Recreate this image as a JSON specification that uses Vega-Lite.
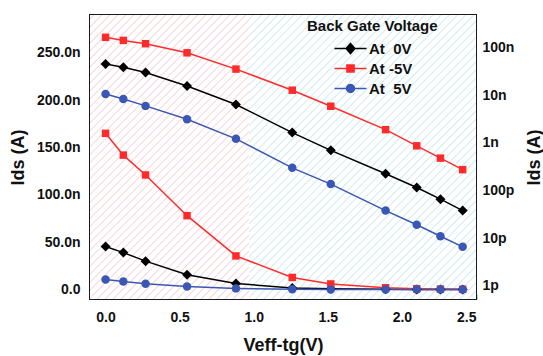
{
  "$schema": "https://vega.github.io/schema/vega-lite/v6.json",
  "width": 386,
  "height": 284,
  "autosize": "none",
  "padding": {"left": 90, "top": 15, "right": 67, "bottom": 57},
  "background": "white",
  "config": {
    "font": "Liberation Sans",
    "view": {"stroke": "#1a1a1a", "strokeWidth": 2},
    "axis": {
      "grid": false,
      "ticks": true,
      "zindex": 1,
      "labelFont": "Liberation Sans",
      "labelFontWeight": "bold",
      "labelFontSize": 14,
      "labelColor": "#111111",
      "titleFont": "Liberation Sans",
      "titleFontWeight": "bold",
      "titleFontSize": 18,
      "titleColor": "#111111"
    }
  },
  "data": {
    "values": [
      {"v": 0, "i": 4.55e-8, "s": "At 0V"},
      {"v": 0.12, "i": 3.9e-8, "s": "At 0V"},
      {"v": 0.27, "i": 3.0e-8, "s": "At 0V"},
      {"v": 0.55, "i": 1.57e-8, "s": "At 0V"},
      {"v": 0.88, "i": 6.4e-9, "s": "At 0V"},
      {"v": 1.26, "i": 1.65e-9, "s": "At 0V"},
      {"v": 1.52, "i": 7.0e-10, "s": "At 0V"},
      {"v": 1.89, "i": 2.25e-10, "s": "At 0V"},
      {"v": 2.1, "i": 1.16e-10, "s": "At 0V"},
      {"v": 2.26, "i": 6.6e-11, "s": "At 0V"},
      {"v": 2.41, "i": 3.8e-11, "s": "At 0V"},
      {"v": 0, "i": 1.65e-7, "s": "At -5V"},
      {"v": 0.12, "i": 1.42e-7, "s": "At -5V"},
      {"v": 0.27, "i": 1.21e-7, "s": "At -5V"},
      {"v": 0.55, "i": 7.8e-8, "s": "At -5V"},
      {"v": 0.88, "i": 3.55e-8, "s": "At -5V"},
      {"v": 1.26, "i": 1.28e-8, "s": "At -5V"},
      {"v": 1.52, "i": 5.9e-9, "s": "At -5V"},
      {"v": 1.89, "i": 1.9e-9, "s": "At -5V"},
      {"v": 2.1, "i": 8.7e-10, "s": "At -5V"},
      {"v": 2.26, "i": 4.8e-10, "s": "At -5V"},
      {"v": 2.41, "i": 2.75e-10, "s": "At -5V"},
      {"v": 0, "i": 1.07e-8, "s": "At 5V"},
      {"v": 0.12, "i": 8.4e-9, "s": "At 5V"},
      {"v": 0.27, "i": 6.0e-9, "s": "At 5V"},
      {"v": 0.55, "i": 3.15e-9, "s": "At 5V"},
      {"v": 0.88, "i": 1.22e-9, "s": "At 5V"},
      {"v": 1.26, "i": 3.0e-10, "s": "At 5V"},
      {"v": 1.52, "i": 1.37e-10, "s": "At 5V"},
      {"v": 1.89, "i": 3.8e-11, "s": "At 5V"},
      {"v": 2.1, "i": 1.92e-11, "s": "At 5V"},
      {"v": 2.26, "i": 1.1e-11, "s": "At 5V"},
      {"v": 2.41, "i": 6.6e-12, "s": "At 5V"}
    ]
  },
  "encoding": {
    "x": {
      "field": "v",
      "type": "quantitative",
      "scale": {"domain": [-0.105, 2.5], "nice": false, "zero": false},
      "axis": {
        "title": "Veff-tg(V)",
        "values": [0, 0.25, 0.5, 0.75, 1, 1.25, 1.5, 1.75, 2, 2.25, 2.5],
        "labelExpr": "(round(datum.value*4) % 2 == 0) ? format(datum.value, '.1f') : ''",
        "domain": false,
        "offset": -5,
        "ticks": true,
        "tickSize": 5,
        "tickWidth": 1.5,
        "tickColor": "#1a1a1a",
        "labelPadding": 11,
        "titlePadding": 12
      }
    }
  },
  "layer": [
    {
      "layer": [
        {
          "mark": {
            "type": "rect",
            "fill": {
              "gradient": "linear", "x1": 0, "y1": 0, "x2": 0.665, "y2": 1.188,
              "stops": [
                {"offset": 0, "color": "#ffffff"},
                {"offset": 0.006, "color": "#ffffff"}, {"offset": 0.009, "color": "#f8d3da"}, {"offset": 0.012, "color": "#ffffff"},
                {"offset": 0.024, "color": "#ffffff"}, {"offset": 0.027, "color": "#f8d3da"}, {"offset": 0.03, "color": "#ffffff"},
                {"offset": 0.042, "color": "#ffffff"}, {"offset": 0.045, "color": "#f8d3da"}, {"offset": 0.048, "color": "#ffffff"},
                {"offset": 0.06, "color": "#ffffff"}, {"offset": 0.063, "color": "#f8d3da"}, {"offset": 0.066, "color": "#ffffff"},
                {"offset": 0.078, "color": "#ffffff"}, {"offset": 0.081, "color": "#f8d3da"}, {"offset": 0.084, "color": "#ffffff"},
                {"offset": 0.096, "color": "#ffffff"}, {"offset": 0.099, "color": "#f8d3da"}, {"offset": 0.102, "color": "#ffffff"},
                {"offset": 0.114, "color": "#ffffff"}, {"offset": 0.117, "color": "#f8d3da"}, {"offset": 0.12, "color": "#ffffff"},
                {"offset": 0.132, "color": "#ffffff"}, {"offset": 0.135, "color": "#f8d3da"}, {"offset": 0.138, "color": "#ffffff"},
                {"offset": 0.15, "color": "#ffffff"}, {"offset": 0.153, "color": "#f8d3da"}, {"offset": 0.156, "color": "#ffffff"},
                {"offset": 0.168, "color": "#ffffff"}, {"offset": 0.171, "color": "#f8d3da"}, {"offset": 0.174, "color": "#ffffff"},
                {"offset": 0.186, "color": "#ffffff"}, {"offset": 0.189, "color": "#f8d3da"}, {"offset": 0.192, "color": "#ffffff"},
                {"offset": 0.204, "color": "#ffffff"}, {"offset": 0.207, "color": "#f8d3da"}, {"offset": 0.21, "color": "#ffffff"},
                {"offset": 0.222, "color": "#ffffff"}, {"offset": 0.225, "color": "#f8d3da"}, {"offset": 0.228, "color": "#ffffff"},
                {"offset": 0.24, "color": "#ffffff"}, {"offset": 0.243, "color": "#f8d3da"}, {"offset": 0.246, "color": "#ffffff"},
                {"offset": 0.258, "color": "#ffffff"}, {"offset": 0.261, "color": "#f8d3da"}, {"offset": 0.264, "color": "#ffffff"},
                {"offset": 0.276, "color": "#ffffff"}, {"offset": 0.279, "color": "#f8d3da"}, {"offset": 0.282, "color": "#ffffff"},
                {"offset": 0.294, "color": "#ffffff"}, {"offset": 0.297, "color": "#f8d3da"}, {"offset": 0.3, "color": "#ffffff"},
                {"offset": 0.312, "color": "#ffffff"}, {"offset": 0.315, "color": "#f8d3da"}, {"offset": 0.318, "color": "#ffffff"},
                {"offset": 0.33, "color": "#ffffff"}, {"offset": 0.333, "color": "#f8d3da"}, {"offset": 0.336, "color": "#ffffff"},
                {"offset": 0.348, "color": "#ffffff"}, {"offset": 0.351, "color": "#f8d3da"}, {"offset": 0.354, "color": "#ffffff"},
                {"offset": 0.366, "color": "#ffffff"}, {"offset": 0.369, "color": "#f8d3da"}, {"offset": 0.372, "color": "#ffffff"},
                {"offset": 0.384, "color": "#ffffff"}, {"offset": 0.387, "color": "#f8d3da"}, {"offset": 0.39, "color": "#ffffff"},
                {"offset": 0.402, "color": "#ffffff"}, {"offset": 0.405, "color": "#f8d3da"}, {"offset": 0.408, "color": "#ffffff"},
                {"offset": 0.42, "color": "#ffffff"}, {"offset": 0.423, "color": "#f8d3da"}, {"offset": 0.426, "color": "#ffffff"},
                {"offset": 0.438, "color": "#ffffff"}, {"offset": 0.441, "color": "#f8d3da"}, {"offset": 0.444, "color": "#ffffff"},
                {"offset": 0.456, "color": "#ffffff"}, {"offset": 0.459, "color": "#f8d3da"}, {"offset": 0.462, "color": "#ffffff"},
                {"offset": 0.474, "color": "#ffffff"}, {"offset": 0.477, "color": "#f8d3da"}, {"offset": 0.48, "color": "#ffffff"},
                {"offset": 0.492, "color": "#ffffff"}, {"offset": 0.495, "color": "#f8d3da"}, {"offset": 0.498, "color": "#ffffff"},
                {"offset": 0.51, "color": "#ffffff"}, {"offset": 0.513, "color": "#f8d3da"}, {"offset": 0.516, "color": "#ffffff"},
                {"offset": 0.528, "color": "#ffffff"}, {"offset": 0.531, "color": "#f8d3da"}, {"offset": 0.534, "color": "#ffffff"},
                {"offset": 0.546, "color": "#ffffff"}, {"offset": 0.549, "color": "#f8d3da"}, {"offset": 0.552, "color": "#ffffff"},
                {"offset": 0.564, "color": "#ffffff"}, {"offset": 0.567, "color": "#f8d3da"}, {"offset": 0.57, "color": "#ffffff"},
                {"offset": 0.582, "color": "#ffffff"}, {"offset": 0.585, "color": "#f8d3da"}, {"offset": 0.588, "color": "#ffffff"},
                {"offset": 0.6, "color": "#ffffff"}, {"offset": 0.603, "color": "#f8d3da"}, {"offset": 0.606, "color": "#ffffff"},
                {"offset": 0.618, "color": "#ffffff"}, {"offset": 0.621, "color": "#f8d3da"}, {"offset": 0.624, "color": "#ffffff"},
                {"offset": 0.636, "color": "#ffffff"}, {"offset": 0.639, "color": "#f8d3da"}, {"offset": 0.642, "color": "#ffffff"},
                {"offset": 0.654, "color": "#ffffff"}, {"offset": 0.657, "color": "#f8d3da"}, {"offset": 0.66, "color": "#ffffff"},
                {"offset": 0.672, "color": "#ffffff"}, {"offset": 0.675, "color": "#f8d3da"}, {"offset": 0.678, "color": "#ffffff"},
                {"offset": 0.69, "color": "#ffffff"}, {"offset": 0.693, "color": "#f8d3da"}, {"offset": 0.696, "color": "#ffffff"},
                {"offset": 0.708, "color": "#ffffff"}, {"offset": 0.711, "color": "#f8d3da"}, {"offset": 0.714, "color": "#ffffff"},
                {"offset": 0.726, "color": "#ffffff"}, {"offset": 0.729, "color": "#f8d3da"}, {"offset": 0.732, "color": "#ffffff"},
                {"offset": 0.744, "color": "#ffffff"}, {"offset": 0.747, "color": "#f8d3da"}, {"offset": 0.75, "color": "#ffffff"},
                {"offset": 0.762, "color": "#ffffff"}, {"offset": 0.765, "color": "#f8d3da"}, {"offset": 0.768, "color": "#ffffff"},
                {"offset": 0.78, "color": "#ffffff"}, {"offset": 0.783, "color": "#f8d3da"}, {"offset": 0.786, "color": "#ffffff"},
                {"offset": 0.798, "color": "#ffffff"}, {"offset": 0.801, "color": "#f8d3da"}, {"offset": 0.804, "color": "#ffffff"},
                {"offset": 0.816, "color": "#ffffff"}, {"offset": 0.819, "color": "#f8d3da"}, {"offset": 0.822, "color": "#ffffff"},
                {"offset": 0.834, "color": "#ffffff"}, {"offset": 0.837, "color": "#f8d3da"}, {"offset": 0.84, "color": "#ffffff"},
                {"offset": 0.852, "color": "#ffffff"}, {"offset": 0.855, "color": "#f8d3da"}, {"offset": 0.858, "color": "#ffffff"},
                {"offset": 0.87, "color": "#ffffff"}, {"offset": 0.873, "color": "#f8d3da"}, {"offset": 0.876, "color": "#ffffff"},
                {"offset": 0.888, "color": "#ffffff"}, {"offset": 0.891, "color": "#f8d3da"}, {"offset": 0.894, "color": "#ffffff"},
                {"offset": 0.906, "color": "#ffffff"}, {"offset": 0.909, "color": "#f8d3da"}, {"offset": 0.912, "color": "#ffffff"},
                {"offset": 0.924, "color": "#ffffff"}, {"offset": 0.927, "color": "#f8d3da"}, {"offset": 0.93, "color": "#ffffff"},
                {"offset": 0.942, "color": "#ffffff"}, {"offset": 0.945, "color": "#f8d3da"}, {"offset": 0.948, "color": "#ffffff"},
                {"offset": 0.96, "color": "#ffffff"}, {"offset": 0.963, "color": "#f8d3da"}, {"offset": 0.966, "color": "#ffffff"},
                {"offset": 0.978, "color": "#ffffff"}, {"offset": 0.981, "color": "#f8d3da"}, {"offset": 0.984, "color": "#ffffff"},
                {"offset": 1, "color": "#ffffff"}
              ]
            }
          },
          "encoding": {"x": {"datum": -0.105, "type": "quantitative"}, "x2": {"datum": 0.97}, "y": {"datum": -1.0e-8, "type": "quantitative"}, "y2": {"datum": 2.9e-7}}
        },
        {
          "mark": {
            "type": "rect",
            "fill": {
              "gradient": "linear", "x1": 0, "y1": 0, "x2": 0.878, "y2": 1.098,
              "stops": [
                {"offset": 0, "color": "#ffffff"},
                {"offset": 0.005, "color": "#ffffff"}, {"offset": 0.008, "color": "#d3ecf0"}, {"offset": 0.011, "color": "#ffffff"},
                {"offset": 0.021, "color": "#ffffff"}, {"offset": 0.024, "color": "#d3ecf0"}, {"offset": 0.027, "color": "#ffffff"},
                {"offset": 0.037, "color": "#ffffff"}, {"offset": 0.04, "color": "#d3ecf0"}, {"offset": 0.043, "color": "#ffffff"},
                {"offset": 0.053, "color": "#ffffff"}, {"offset": 0.056, "color": "#d3ecf0"}, {"offset": 0.059, "color": "#ffffff"},
                {"offset": 0.069, "color": "#ffffff"}, {"offset": 0.072, "color": "#d3ecf0"}, {"offset": 0.075, "color": "#ffffff"},
                {"offset": 0.085, "color": "#ffffff"}, {"offset": 0.088, "color": "#d3ecf0"}, {"offset": 0.091, "color": "#ffffff"},
                {"offset": 0.101, "color": "#ffffff"}, {"offset": 0.104, "color": "#d3ecf0"}, {"offset": 0.107, "color": "#ffffff"},
                {"offset": 0.117, "color": "#ffffff"}, {"offset": 0.12, "color": "#d3ecf0"}, {"offset": 0.123, "color": "#ffffff"},
                {"offset": 0.133, "color": "#ffffff"}, {"offset": 0.136, "color": "#d3ecf0"}, {"offset": 0.139, "color": "#ffffff"},
                {"offset": 0.149, "color": "#ffffff"}, {"offset": 0.152, "color": "#d3ecf0"}, {"offset": 0.155, "color": "#ffffff"},
                {"offset": 0.165, "color": "#ffffff"}, {"offset": 0.168, "color": "#d3ecf0"}, {"offset": 0.171, "color": "#ffffff"},
                {"offset": 0.181, "color": "#ffffff"}, {"offset": 0.184, "color": "#d3ecf0"}, {"offset": 0.187, "color": "#ffffff"},
                {"offset": 0.197, "color": "#ffffff"}, {"offset": 0.2, "color": "#d3ecf0"}, {"offset": 0.203, "color": "#ffffff"},
                {"offset": 0.213, "color": "#ffffff"}, {"offset": 0.216, "color": "#d3ecf0"}, {"offset": 0.219, "color": "#ffffff"},
                {"offset": 0.229, "color": "#ffffff"}, {"offset": 0.232, "color": "#d3ecf0"}, {"offset": 0.235, "color": "#ffffff"},
                {"offset": 0.245, "color": "#ffffff"}, {"offset": 0.248, "color": "#d3ecf0"}, {"offset": 0.251, "color": "#ffffff"},
                {"offset": 0.261, "color": "#ffffff"}, {"offset": 0.264, "color": "#d3ecf0"}, {"offset": 0.267, "color": "#ffffff"},
                {"offset": 0.277, "color": "#ffffff"}, {"offset": 0.28, "color": "#d3ecf0"}, {"offset": 0.283, "color": "#ffffff"},
                {"offset": 0.293, "color": "#ffffff"}, {"offset": 0.296, "color": "#d3ecf0"}, {"offset": 0.299, "color": "#ffffff"},
                {"offset": 0.309, "color": "#ffffff"}, {"offset": 0.312, "color": "#d3ecf0"}, {"offset": 0.315, "color": "#ffffff"},
                {"offset": 0.325, "color": "#ffffff"}, {"offset": 0.328, "color": "#d3ecf0"}, {"offset": 0.331, "color": "#ffffff"},
                {"offset": 0.341, "color": "#ffffff"}, {"offset": 0.344, "color": "#d3ecf0"}, {"offset": 0.347, "color": "#ffffff"},
                {"offset": 0.357, "color": "#ffffff"}, {"offset": 0.36, "color": "#d3ecf0"}, {"offset": 0.363, "color": "#ffffff"},
                {"offset": 0.373, "color": "#ffffff"}, {"offset": 0.376, "color": "#d3ecf0"}, {"offset": 0.379, "color": "#ffffff"},
                {"offset": 0.389, "color": "#ffffff"}, {"offset": 0.392, "color": "#d3ecf0"}, {"offset": 0.395, "color": "#ffffff"},
                {"offset": 0.405, "color": "#ffffff"}, {"offset": 0.408, "color": "#d3ecf0"}, {"offset": 0.411, "color": "#ffffff"},
                {"offset": 0.421, "color": "#ffffff"}, {"offset": 0.424, "color": "#d3ecf0"}, {"offset": 0.427, "color": "#ffffff"},
                {"offset": 0.437, "color": "#ffffff"}, {"offset": 0.44, "color": "#d3ecf0"}, {"offset": 0.443, "color": "#ffffff"},
                {"offset": 0.453, "color": "#ffffff"}, {"offset": 0.456, "color": "#d3ecf0"}, {"offset": 0.459, "color": "#ffffff"},
                {"offset": 0.469, "color": "#ffffff"}, {"offset": 0.472, "color": "#d3ecf0"}, {"offset": 0.475, "color": "#ffffff"},
                {"offset": 0.485, "color": "#ffffff"}, {"offset": 0.488, "color": "#d3ecf0"}, {"offset": 0.491, "color": "#ffffff"},
                {"offset": 0.501, "color": "#ffffff"}, {"offset": 0.504, "color": "#d3ecf0"}, {"offset": 0.507, "color": "#ffffff"},
                {"offset": 0.517, "color": "#ffffff"}, {"offset": 0.52, "color": "#d3ecf0"}, {"offset": 0.523, "color": "#ffffff"},
                {"offset": 0.533, "color": "#ffffff"}, {"offset": 0.536, "color": "#d3ecf0"}, {"offset": 0.539, "color": "#ffffff"},
                {"offset": 0.549, "color": "#ffffff"}, {"offset": 0.552, "color": "#d3ecf0"}, {"offset": 0.555, "color": "#ffffff"},
                {"offset": 0.565, "color": "#ffffff"}, {"offset": 0.568, "color": "#d3ecf0"}, {"offset": 0.571, "color": "#ffffff"},
                {"offset": 0.581, "color": "#ffffff"}, {"offset": 0.584, "color": "#d3ecf0"}, {"offset": 0.587, "color": "#ffffff"},
                {"offset": 0.597, "color": "#ffffff"}, {"offset": 0.6, "color": "#d3ecf0"}, {"offset": 0.603, "color": "#ffffff"},
                {"offset": 0.613, "color": "#ffffff"}, {"offset": 0.616, "color": "#d3ecf0"}, {"offset": 0.619, "color": "#ffffff"},
                {"offset": 0.629, "color": "#ffffff"}, {"offset": 0.632, "color": "#d3ecf0"}, {"offset": 0.635, "color": "#ffffff"},
                {"offset": 0.645, "color": "#ffffff"}, {"offset": 0.648, "color": "#d3ecf0"}, {"offset": 0.651, "color": "#ffffff"},
                {"offset": 0.661, "color": "#ffffff"}, {"offset": 0.664, "color": "#d3ecf0"}, {"offset": 0.667, "color": "#ffffff"},
                {"offset": 0.677, "color": "#ffffff"}, {"offset": 0.68, "color": "#d3ecf0"}, {"offset": 0.683, "color": "#ffffff"},
                {"offset": 0.693, "color": "#ffffff"}, {"offset": 0.696, "color": "#d3ecf0"}, {"offset": 0.699, "color": "#ffffff"},
                {"offset": 0.709, "color": "#ffffff"}, {"offset": 0.712, "color": "#d3ecf0"}, {"offset": 0.715, "color": "#ffffff"},
                {"offset": 0.725, "color": "#ffffff"}, {"offset": 0.728, "color": "#d3ecf0"}, {"offset": 0.731, "color": "#ffffff"},
                {"offset": 0.741, "color": "#ffffff"}, {"offset": 0.744, "color": "#d3ecf0"}, {"offset": 0.747, "color": "#ffffff"},
                {"offset": 0.757, "color": "#ffffff"}, {"offset": 0.76, "color": "#d3ecf0"}, {"offset": 0.763, "color": "#ffffff"},
                {"offset": 0.773, "color": "#ffffff"}, {"offset": 0.776, "color": "#d3ecf0"}, {"offset": 0.779, "color": "#ffffff"},
                {"offset": 0.789, "color": "#ffffff"}, {"offset": 0.792, "color": "#d3ecf0"}, {"offset": 0.795, "color": "#ffffff"},
                {"offset": 0.805, "color": "#ffffff"}, {"offset": 0.808, "color": "#d3ecf0"}, {"offset": 0.811, "color": "#ffffff"},
                {"offset": 0.821, "color": "#ffffff"}, {"offset": 0.824, "color": "#d3ecf0"}, {"offset": 0.827, "color": "#ffffff"},
                {"offset": 0.837, "color": "#ffffff"}, {"offset": 0.84, "color": "#d3ecf0"}, {"offset": 0.843, "color": "#ffffff"},
                {"offset": 0.853, "color": "#ffffff"}, {"offset": 0.856, "color": "#d3ecf0"}, {"offset": 0.859, "color": "#ffffff"},
                {"offset": 0.869, "color": "#ffffff"}, {"offset": 0.872, "color": "#d3ecf0"}, {"offset": 0.875, "color": "#ffffff"},
                {"offset": 0.885, "color": "#ffffff"}, {"offset": 0.888, "color": "#d3ecf0"}, {"offset": 0.891, "color": "#ffffff"},
                {"offset": 0.901, "color": "#ffffff"}, {"offset": 0.904, "color": "#d3ecf0"}, {"offset": 0.907, "color": "#ffffff"},
                {"offset": 0.917, "color": "#ffffff"}, {"offset": 0.92, "color": "#d3ecf0"}, {"offset": 0.923, "color": "#ffffff"},
                {"offset": 0.933, "color": "#ffffff"}, {"offset": 0.936, "color": "#d3ecf0"}, {"offset": 0.939, "color": "#ffffff"},
                {"offset": 0.949, "color": "#ffffff"}, {"offset": 0.952, "color": "#d3ecf0"}, {"offset": 0.955, "color": "#ffffff"},
                {"offset": 0.965, "color": "#ffffff"}, {"offset": 0.968, "color": "#d3ecf0"}, {"offset": 0.971, "color": "#ffffff"},
                {"offset": 0.981, "color": "#ffffff"}, {"offset": 0.984, "color": "#d3ecf0"}, {"offset": 0.987, "color": "#ffffff"},
                {"offset": 1, "color": "#ffffff"}
              ]
            }
          },
          "encoding": {"x": {"datum": 0.97, "type": "quantitative"}, "x2": {"datum": 2.5}, "y": {"datum": -1.0e-8, "type": "quantitative"}, "y2": {"datum": 2.9e-7}}
        },
        {
          "mark": {"type": "line", "strokeWidth": 1.5},
          "encoding": {
            "y": {
              "field": "i",
              "type": "quantitative",
              "scale": {"domain": [-1.0e-8, 2.9e-7], "nice": false, "zero": false},
              "axis": {
                "orient": "left",
                "title": "Ids (A)",
                "values": [0, 2.5e-8, 5e-8, 7.5e-8, 1e-7, 1.25e-7, 1.5e-7, 1.75e-7, 2e-7, 2.25e-7, 2.5e-7, 2.75e-7],
                "labelExpr": "(round(datum.value*1e9) % 50 == 0) ? (datum.value == 0 ? '0.0' : format(datum.value*1e9, '.1f') + 'n') : ''",
                "domain": false,
                "offset": -5,
                "ticks": true,
                "tickSize": 5,
                "tickWidth": 1.5,
                "tickColor": "#1a1a1a",
                "labelPadding": 10,
                "titlePadding": 9
              }
            },
            "color": {
              "field": "s",
              "type": "nominal",
              "scale": {"domain": ["At 0V", "At -5V", "At 5V"], "range": ["#000000", "#ff2b2b", "#3a57b5"]},
              "legend": {
                "title": "Back Gate Voltage",
                "orient": "none",
                "legendX": 217,
                "legendY": 4,
                "titleFont": "Liberation Sans",
                "titleFontSize": 15,
                "titleFontWeight": "bold",
                "titleColor": "#111111",
                "titlePadding": 7,
                "labelFont": "Liberation Sans",
                "labelFontSize": 15,
                "labelFontWeight": "bold",
                "labelColor": "#111111",
                "labelExpr": "datum.label == 'At -5V' ? datum.label : replace(datum.label, ' ', '\u00a0\u00a0')",
                "symbolType": "M-4,0H4M0,-1.25L1.1,0L0,1.25L-1.1,0Z",
                "symbolSize": 64,
                "symbolStrokeWidth": 1.5,
                "symbolOffset": 36,
                "labelOffset": 11,
                "rowPadding": 4,
                "encode": {
                  "symbols": {
                    "update": {
                      "shape": {"signal": "datum.value == 'At 0V' ? 'M-4,0H4M0,-1.25L1.1,0L0,1.25L-1.1,0Z' : (datum.value == 'At -5V' ? 'M-4,0H4M-0.9,-0.9H0.9V0.9H-0.9Z' : 'M-4,0H4M-1,0A1,1 0 1,0 1,0A1,1 0 1,0 -1,0Z')"},
                      "fill": {"scale": "color", "field": "value"},
                      "stroke": {"scale": "color", "field": "value"},
                      "strokeWidth": {"value": 1.5},
                      "opacity": {"value": 1}
                    }
                  }
                }
              }
            }
          }
        },
        {
          "transform": [{"filter": "datum.s == 'At 0V'"}],
          "mark": {"type": "point", "filled": true, "opacity": 1, "shape": "diamond", "size": 100, "color": "#000000"},
          "encoding": {"y": {"field": "i", "type": "quantitative"}}
        },
        {
          "transform": [{"filter": "datum.s == 'At -5V'"}],
          "mark": {"type": "point", "filled": true, "opacity": 1, "shape": "square", "size": 56, "color": "#ff2b2b"},
          "encoding": {"y": {"field": "i", "type": "quantitative"}}
        },
        {
          "transform": [{"filter": "datum.s == 'At 5V'"}],
          "mark": {"type": "point", "filled": true, "opacity": 1, "shape": "circle", "size": 72, "color": "#3a57b5"},
          "encoding": {"y": {"field": "i", "type": "quantitative"}}
        }
      ]
    },
    {
      "layer": [
        {
          "mark": {"type": "line", "strokeWidth": 1.5},
          "encoding": {
            "y": {
              "field": "i",
              "type": "quantitative",
              "scale": {"type": "log", "domain": [5.3e-13, 4.85e-7], "nice": false},
              "axis": {
                "orient": "right",
                "title": "Ids (A)",
                "titleAngle": 270,
                "values": [6e-13, 7e-13, 8e-13, 9e-13, 1e-12, 2e-12, 3e-12, 4e-12, 5e-12, 6e-12, 7e-12, 8e-12, 9e-12, 1e-11, 2e-11, 3e-11, 4e-11, 5e-11, 6e-11, 7e-11, 8e-11, 9e-11, 1e-10, 2e-10, 3e-10, 4e-10, 5e-10, 6e-10, 7e-10, 8e-10, 9e-10, 1e-9, 2e-9, 3e-9, 4e-9, 5e-9, 6e-9, 7e-9, 8e-9, 9e-9, 1e-8, 2e-8, 3e-8, 4e-8, 5e-8, 6e-8, 7e-8, 8e-8, 9e-8, 1e-7, 2e-7, 3e-7, 4e-7],
                "labelExpr": "abs(log(datum.value)/LN10 - round(log(datum.value)/LN10)) < 0.001 ? format(datum.value, '~s') : ''",
                "domain": false,
                "offset": -5,
                "ticks": true,
                "tickSize": 5,
                "tickWidth": 1.5,
                "tickColor": "#1a1a1a",
                "labelPadding": 6,
                "titlePadding": 30
              }
            },
            "color": {"field": "s", "type": "nominal"}
          }
        },
        {
          "transform": [{"filter": "datum.s == 'At 0V'"}],
          "mark": {"type": "point", "filled": true, "opacity": 1, "shape": "diamond", "size": 100, "color": "#000000"},
          "encoding": {"y": {"field": "i", "type": "quantitative"}}
        },
        {
          "transform": [{"filter": "datum.s == 'At -5V'"}],
          "mark": {"type": "point", "filled": true, "opacity": 1, "shape": "square", "size": 56, "color": "#ff2b2b"},
          "encoding": {"y": {"field": "i", "type": "quantitative"}}
        },
        {
          "transform": [{"filter": "datum.s == 'At 5V'"}],
          "mark": {"type": "point", "filled": true, "opacity": 1, "shape": "circle", "size": 72, "color": "#3a57b5"},
          "encoding": {"y": {"field": "i", "type": "quantitative"}}
        }
      ]
    }
  ],
  "resolve": {"scale": {"y": "independent"}}
}
